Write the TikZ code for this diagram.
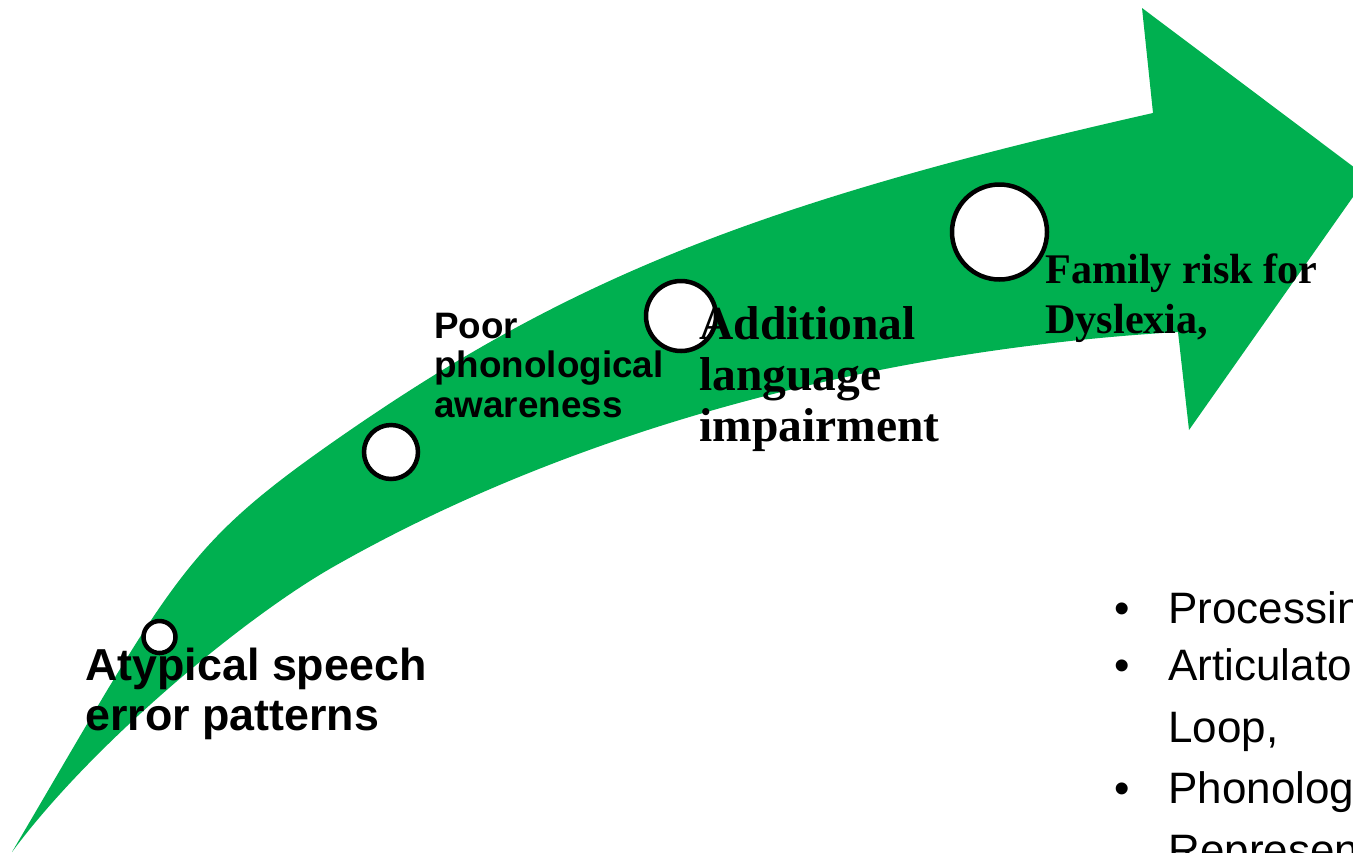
\documentclass[tikz,border=0pt]{standalone}
\usepackage{fontspec}
\setmainfont{Liberation Sans}
\newfontfamily\timesfont{Liberation Serif}
\definecolor{arrowgreen}{RGB}{0,176,80}
\newcommand{\labelstack}[1]{\begin{tabular}[t]{@{}l@{}}#1\end{tabular}}
\tikzset{
  milestone/.style={circle, draw=black, fill=white, line width=2.25pt, inner sep=0pt},
  steplabel/.style={anchor=base west, inner sep=0pt},
}

\begin{document}
\begin{tikzpicture}[x=0.5pt, y=-0.5pt]
\useasboundingbox (0,0) rectangle (1353,852);
\clip (0,0) rectangle (1353,852);

% curved arrow
\fill[arrowgreen] (12,852) .. controls (172,580) and (183,547) .. (333,442)
  .. controls (563,281) and (753,203.4) .. (1153,113)
  -- (1142,8) -- (1367,177) -- (1189,430) -- (1178,332)
  .. controls (874,350) and (573,430.2) .. (333,567)
  .. controls (243,618.3) and (92,744) .. (12,852) -- cycle;

\node[milestone, minimum size=16pt] (speech) at (159.5,637) {};
\node[milestone, minimum size=27pt] (phono) at (391,452) {};
\node[milestone, minimum size=35pt] (lang) at (681,316) {};
\node[milestone, minimum size=47.5pt] (risk) at (999.5,232) {};

\node[steplabel, font=\bfseries\fontsize{22.4}{25}\selectfont] (speechlabel) at (85,680) {\labelstack{Atypical speech\\error patterns}};
\node[steplabel, font=\bfseries\fontsize{18.4}{19.75}\selectfont] (phonolabel) at (434,338) {\labelstack{Poor\\phonological\\awareness}};
\node[steplabel, font=\timesfont\bfseries\fontsize{23.75}{25.5}\selectfont] (langlabel) at (699,339) {\labelstack{Additional\\language\\impairment}};
\node[steplabel, font=\timesfont\bfseries\fontsize{21.1}{25}\selectfont] (risklabel) at (1045,283) {\labelstack{Family risk for\\Dyslexia,}};

% bullet list, cut by the right edge
\node[steplabel, font=\fontsize{22}{31}\selectfont] (processing) at (1168,623) {Processing};
\node[steplabel, font=\fontsize{22}{31}\selectfont] (loop) at (1168,680) {\labelstack{Articulatory\\Loop,}};
\node[steplabel, font=\fontsize{22}{31}\selectfont] (representation) at (1168,803) {\labelstack{Phonological\\Representations}};
\foreach \y in {623,680,803}{
    \node[steplabel, font=\fontsize{22}{31}\selectfont] (bullet\y) at (1114.5,\y) {\textbullet};
}

\end{tikzpicture}
\end{document}
